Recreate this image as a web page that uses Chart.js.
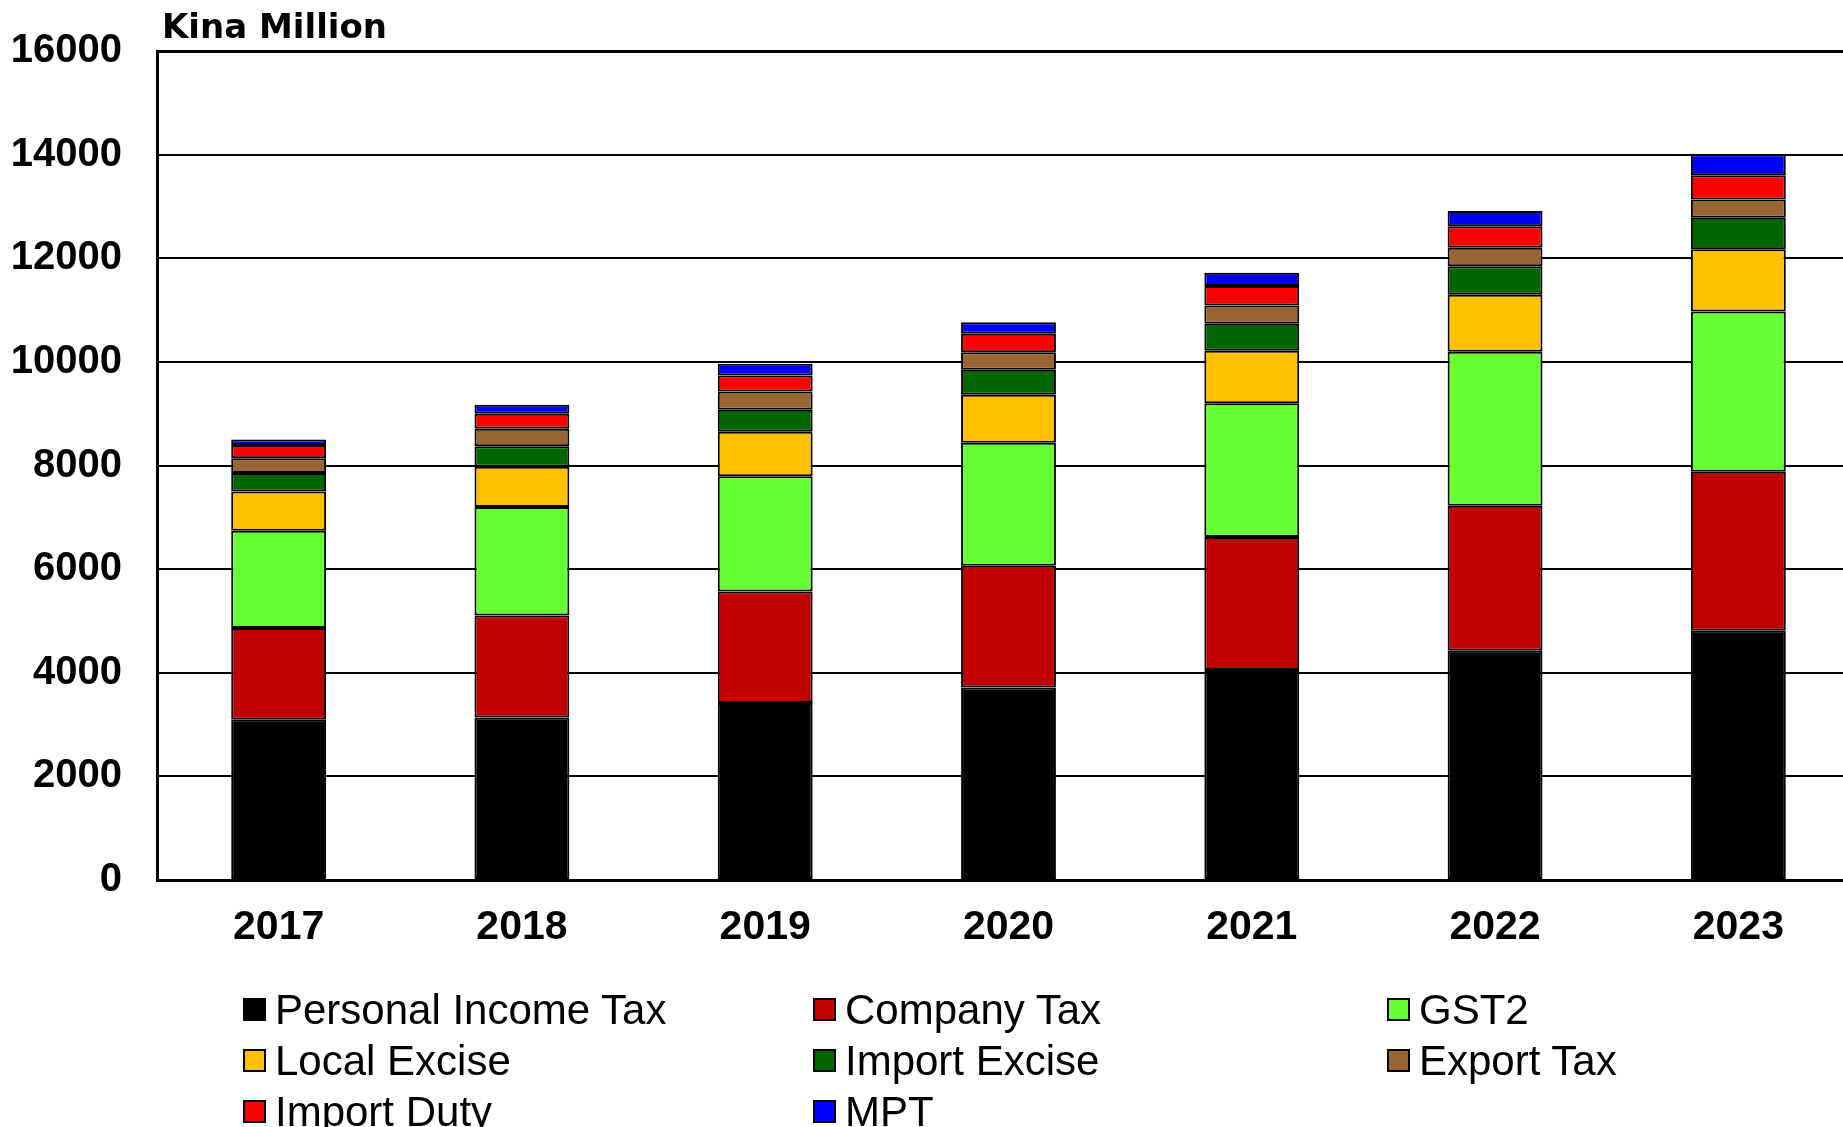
<!DOCTYPE html>
<html>
<head>
<meta charset="utf-8">
<script src="https://cdn.jsdelivr.net/npm/chart.js@4/dist/chart.umd.min.js"></script>
<style>
  html, body { margin: 0; padding: 0; overflow: hidden; background: #fff; }
  #wrap { position: relative; width: 1843px; height: 1127px; overflow: hidden; }
  #chart { position: absolute; left: 0; top: 0; }
  #legend {
    position: absolute; left: 243px; top: 984px;
    display: grid; grid-template-columns: 570px 574px 400px; grid-auto-rows: 51px;
    font-family: "Liberation Sans", Arial, sans-serif; font-size: 42px; color: #000;
  }
  .item { display: flex; align-items: center; white-space: nowrap; }
  .box { width: 23px; height: 23px; box-sizing: border-box; border: 2px solid #000; margin-right: 9px; flex: none; }
</style>
</head>
<body>
<div id="wrap">
  <canvas id="chart" width="1860" height="1127"></canvas>
  <div id="legend"></div>
</div>
<script>
const years = ['2017', '2018', '2019', '2020', '2021', '2022', '2023'];

const personalIncomeTax = [3091, 3136, 3414, 3715, 4051, 4424, 4811];
const companyTax        = [1772, 1971, 2156, 2351, 2570, 2801, 3066];
const gst2              = [1880, 2094, 2222, 2371, 2581, 2969, 3097];
const localExcise       = [753, 773, 858, 927, 1012, 1101, 1198];
const importExcise      = [361, 398, 425, 483, 522, 553, 612];
const exportTax         = [282, 336, 354, 340, 354, 355, 348];
const importDuty        = [259, 290, 309, 355, 373, 417, 469];
const mpt               = [102, 174, 226, 224, 259, 290, 406];

const yTicks = [0, 2000, 4000, 6000, 8000, 10000, 12000, 14000, 16000];

const series = [
    {label: 'Personal Income Tax', data: personalIncomeTax, color: '#000000'},
    {label: 'Company Tax', data: companyTax, color: '#C00000'},
    {label: 'GST2', data: gst2, color: '#66FF33'},
    {label: 'Local Excise', data: localExcise, color: '#FFC000'},
    {label: 'Import Excise', data: importExcise, color: '#006600'},
    {label: 'Export Tax', data: exportTax, color: '#996633'},
    {label: 'Import Duty', data: importDuty, color: '#FF0000'},
    {label: 'MPT', data: mpt, color: '#0000FF'}
];

// unit label in the top-left corner
const unitTitle = {
    id: 'unitTitle',
    afterDraw(chart) {
        const ctx = chart.ctx;
        ctx.save();
        ctx.font = 'bold 34px "DejaVu Sans", sans-serif';
        ctx.fillStyle = '#000';
        ctx.textBaseline = 'alphabetic';
        ctx.fillText('Kina Million', chart.chartArea.left + 5, 38);
        ctx.restore();
    }
};

const chart = new Chart(document.getElementById('chart'), {
    type: 'bar',
    data: {
        labels: years,
        datasets: series.map(s => ({
            label: s.label,
            data: s.data,
            backgroundColor: s.color,
            borderColor: '#000',
            borderWidth: 2,
            borderSkipped: false,
            barPercentage: 0.39,
            categoryPercentage: 1
        }))
    },
    options: {
        responsive: false,
        animation: false,
        layout: {padding: {top: 51, left: 0, right: 0, bottom: 147}},
        plugins: {
            legend: {display: false},
            tooltip: {enabled: false}
        },
        scales: {
            x: {
                stacked: true,
                grid: {display: false, drawTicks: false},
                border: {display: true, color: '#000', width: 3},
                ticks: {
                    color: '#000',
                    padding: 23,
                    font: {family: '"Liberation Sans", Arial, sans-serif', size: 41, weight: 'bold'}
                },
                afterFit: s => { s.height = 100; }
            },
            y: {
                stacked: true,
                min: 0,
                max: 16000,
                afterBuildTicks: s => { s.ticks = yTicks.map(v => ({value: v})); },
                grid: {
                    color: '#000',
                    lineWidth: c => (c.tick && c.tick.value === 16000) ? 3 : 2,
                    drawTicks: false
                },
                border: {display: true, color: '#000', width: 3},
                ticks: {
                    color: '#000',
                    padding: 35,
                    font: {family: '"Liberation Sans", Arial, sans-serif', size: 40, weight: 'bold'},
                    callback: v => String(v)
                },
                afterFit: s => { s.width = 157; s.paddingTop = 0; s.paddingBottom = 0; }
            }
        }
    },
    plugins: [unitTitle]
});

// legend laid out in three fixed columns
const legend = document.getElementById('legend');
chart.data.datasets.forEach(ds => {
    const item = document.createElement('div');
    item.className = 'item';
    const box = document.createElement('span');
    box.className = 'box';
    box.style.background = ds.backgroundColor;
    const txt = document.createElement('span');
    txt.textContent = ds.label;
    item.appendChild(box);
    item.appendChild(txt);
    legend.appendChild(item);
});
</script>
</body>
</html>
